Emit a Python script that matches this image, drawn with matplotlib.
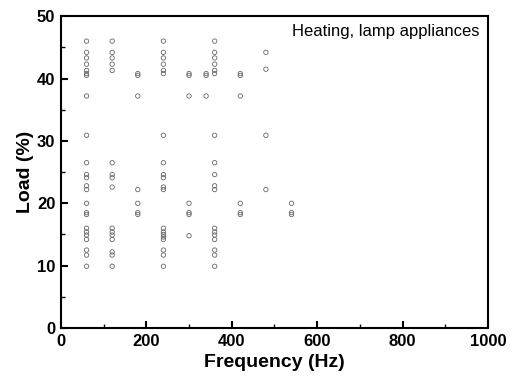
import matplotlib
matplotlib.use("Agg")
import matplotlib.pyplot as plt
from matplotlib.ticker import MultipleLocator

plt.rcParams['font.family'] = ['Liberation Sans', 'DejaVu Sans']

freq_60 = [46, 44.2, 43.3, 42.3, 41.3, 40.8, 40.5, 37.2, 30.9, 26.5, 24.6, 24.1, 22.8, 22.2, 20, 18.5, 18.2, 16, 15.4, 14.9, 14.2, 12.5, 11.7, 9.9]
freq_120 = [46, 44.2, 43.3, 42.3, 41.3, 26.5, 24.6, 24.1, 22.6, 16, 15.4, 14.9, 14.2, 12.2, 11.7, 9.9]
freq_180 = [40.8, 40.5, 37.2, 22.2, 20, 18.5, 18.2]
freq_240 = [46, 44.2, 43.3, 42.3, 41.3, 40.8, 30.9, 26.5, 24.6, 24.1, 22.6, 22.2, 16, 15.4, 15, 14.6, 14.2, 12.5, 11.7, 9.9]
freq_300 = [40.8, 40.5, 37.2, 20, 18.5, 18.2, 14.8]
freq_340 = [40.8, 40.5, 37.2]
freq_360 = [46, 44.2, 43.3, 42.3, 41.3, 40.8, 30.9, 26.5, 24.6, 22.8, 22.2, 16, 15.4, 14.9, 14.2, 12.5, 11.7, 9.9]
freq_420 = [40.8, 40.5, 37.2, 20, 18.5, 18.2]
freq_480 = [44.2, 41.5, 30.9, 22.2]
freq_540 = [20, 18.5, 18.2]

frequencies = [60, 120, 180, 240, 300, 340, 360, 420, 480, 540]
loads = [freq_60, freq_120, freq_180, freq_240, freq_300, freq_340, freq_360, freq_420, freq_480, freq_540]

fig = plt.figure(figsize=(5.12, 3.85), dpi=100)
ax = fig.add_axes([0.119, 0.148, 0.834, 0.81])

xs, ys = [], []
for f, ls in zip(frequencies, loads):
    for v in ls:
        xs.append(f)
        ys.append(v)
ax.scatter(xs, ys, s=10, facecolors='none', edgecolors='#666666', linewidths=0.6)

ax.set_xlim(0, 1000)
ax.set_ylim(0, 50)
ax.xaxis.set_major_locator(MultipleLocator(200))
ax.xaxis.set_minor_locator(MultipleLocator(100))
ax.yaxis.set_major_locator(MultipleLocator(10))
ax.yaxis.set_minor_locator(MultipleLocator(5))
ax.tick_params(which='major', direction='in', length=5, width=1.5, labelsize=12, pad=4)
ax.tick_params(which='minor', direction='in', length=3, width=1)
for lab in ax.get_xticklabels() + ax.get_yticklabels():
    lab.set_fontweight('bold')
for sp in ax.spines.values():
    sp.set_linewidth(1.5)

ax.set_xlabel('Frequency (Hz)', fontsize=14, fontweight='bold', labelpad=4)
ax.set_ylabel('Load (%)', fontsize=14, fontweight='bold', labelpad=2)
ax.text(0.98, 0.975, 'Heating, lamp appliances', transform=ax.transAxes, ha='right', va='top', fontsize=12)

fig.savefig('out.png', dpi=100)
